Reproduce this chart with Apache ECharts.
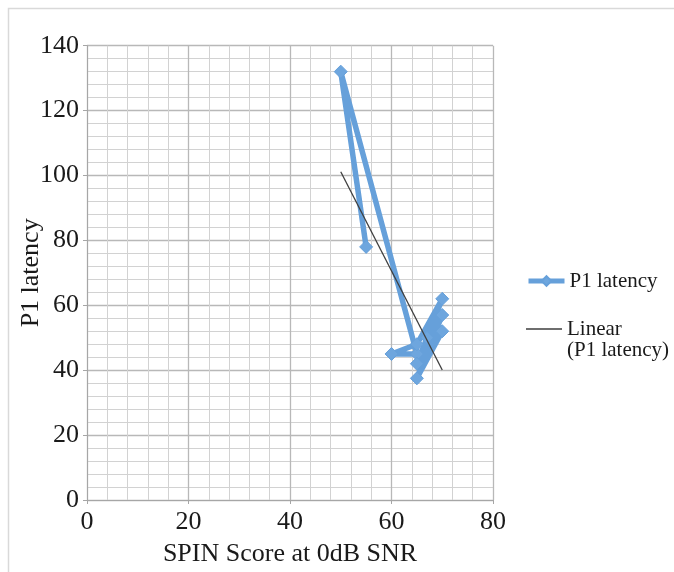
<!DOCTYPE html>
<html>
<head>
<meta charset="utf-8">
<script src="https://cdn.jsdelivr.net/npm/echarts@6/dist/echarts.min.js"></script>
<style>
html,body{margin:0;padding:0;background:#ffffff;}
#chart{width:674px;height:572px;}
</style>
</head>
<body>
<div id="chart"></div>
<script>
// Data (in plotted order)
var spinScore = [55, 50, 65, 60, 65, 70, 65, 70, 65, 70, 67];
var p1Latency = [78, 132, 45, 45, 48, 62, 42, 57, 37.5, 52, 50];
var xTicks = [0, 20, 40, 60, 80];
var yTicks = [0, 20, 40, 60, 80, 100, 120, 140];
var seriesName = 'P1 latency';
var trendName = 'Linear\n(P1 latency)';

var pts = spinScore.map(function (x, i) { return [x, p1Latency[i]]; });

// least-squares linear trend line
var n = pts.length, mx = 0, my = 0;
pts.forEach(function (p) { mx += p[0]; my += p[1]; });
mx /= n; my /= n;
var sxy = 0, sxx = 0;
pts.forEach(function (p) { sxy += (p[0] - mx) * (p[1] - my); sxx += (p[0] - mx) * (p[0] - mx); });
var slope = sxy / sxx, icept = my - slope * mx;
var xMin = Math.min.apply(null, spinScore), xMax = Math.max.apply(null, spinScore);
var trend = [[xMin, icept + slope * xMin], [xMax, icept + slope * xMax]];

var FONT = "'Liberation Serif', 'DejaVu Serif', serif";
var thinLineIcon = 'path://M0,0L0.01,0L0.01,0.01Z M0,5.3L36,5.3L36,6.7L0,6.7Z M0,12L0.01,12L0.01,11.99Z';
var chart = echarts.init(document.getElementById('chart'));
chart.setOption({
  backgroundColor: '#ffffff',
  animation: false,
  graphic: [{
    type: 'rect', left: 6, top: 6, silent: true,
    shape: { width: 700, height: 600 },
    style: { fill: 'none', stroke: '#d9d9d9', lineWidth: 1.5 }
  }],
  grid: { left: 87, right: 181, top: 45.7, bottom: 72, outerBoundsMode: 'none', containLabel: false },
  legend: [{
    orient: 'vertical', left: 526, top: 270.5, padding: 0,
    itemWidth: 36, itemHeight: 12, itemGap: 0,
    textStyle: { fontFamily: FONT, fontSize: 21, color: '#1a1a1a', lineHeight: 21 },
    data: [{ name: seriesName, lineStyle: { width: 5 } }]
  }, {
    orient: 'vertical', left: 526, top: 297.5, padding: 0,
    itemWidth: 36, itemHeight: 12, itemGap: 0,
    formatter: function (name) { return '\n' + name; },
    textStyle: { fontFamily: FONT, fontSize: 21, color: '#1a1a1a', lineHeight: 21 },
    data: [{ name: trendName, icon: thinLineIcon }]
  }],
  xAxis: {
    type: 'value', min: xTicks[0], max: xTicks[xTicks.length - 1], interval: 20,
    name: 'SPIN Score at 0dB SNR', nameLocation: 'middle', nameGap: 41, nameMoveOverlap: false,
    nameTextStyle: { fontFamily: FONT, fontSize: 26, color: '#1a1a1a' },
    axisLine: { show: true, lineStyle: { color: '#a6a6a6', width: 1 } },
    axisTick: { show: true, length: 4, lineStyle: { color: '#a6a6a6' } },
    axisLabel: { fontFamily: FONT, fontSize: 26, color: '#1a1a1a', margin: 9 },
    splitLine: { show: true, lineStyle: { color: '#b8b8b8', width: 1.3 } },
    minorTick: { show: false, splitNumber: 5 },
    minorSplitLine: { show: true, lineStyle: { color: '#d2d2d2', width: 1 } }
  },
  yAxis: {
    type: 'value', min: yTicks[0], max: yTicks[yTicks.length - 1], interval: 20,
    name: 'P1 latency', nameLocation: 'middle', nameGap: 43, nameRotate: 90, nameMoveOverlap: false,
    nameTextStyle: { fontFamily: FONT, fontSize: 26, color: '#1a1a1a' },
    axisLine: { show: true, lineStyle: { color: '#a6a6a6', width: 1 } },
    axisTick: { show: true, length: 4, lineStyle: { color: '#a6a6a6' } },
    axisLabel: { fontFamily: FONT, fontSize: 26, color: '#1a1a1a', margin: 8 },
    splitLine: { show: true, lineStyle: { color: '#b8b8b8', width: 1.3 } },
    minorTick: { show: false, splitNumber: 5 },
    minorSplitLine: { show: true, lineStyle: { color: '#d2d2d2', width: 1 } }
  },
  series: [{
    name: seriesName, type: 'line', data: pts,
    symbol: 'diamond', symbolSize: 13, showSymbol: true,
    lineStyle: { color: '#66a0da', width: 5.5 },
    itemStyle: { color: '#6ea6de', borderColor: '#66a0da', borderWidth: 1 },
    z: 3
  }, {
    name: trendName, type: 'line', data: trend,
    symbol: 'none', showSymbol: false,
    lineStyle: { color: '#3f3f3f', width: 1.3 },
    itemStyle: { color: '#3f3f3f' },
    z: 4
  }]
});
</script>
</body>
</html>
